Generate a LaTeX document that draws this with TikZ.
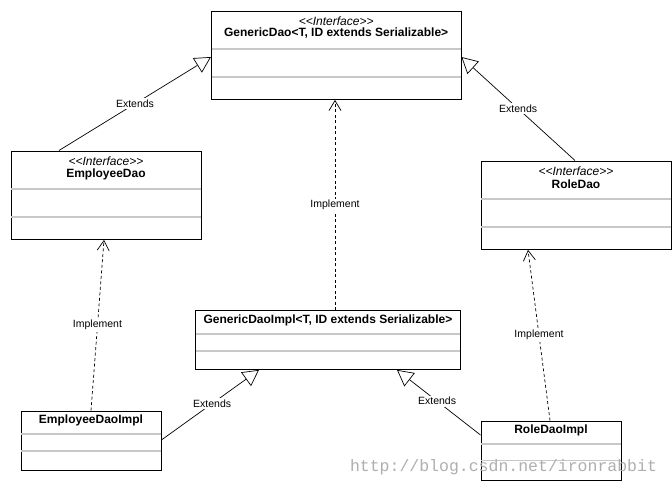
\documentclass[tikz,border=0pt]{standalone}
\usepackage{fontspec}
\setmainfont{Liberation Sans}
\newfontfamily\wmfont{Liberation Mono}
\usetikzlibrary{arrows.meta,calc}
\definecolor{divgray}{RGB}{200,200,200}
\definecolor{wmgray}{RGB}{175,175,175}
\tikzset{
  umlbox/.style={draw=black, line width=0.9pt, fill=white, inner sep=0pt, anchor=north west},
  divline/.style={draw=divgray, line width=1.2pt},
  ttl/.style={font=\fontsize{12}{14}\selectfont\bfseries, inner sep=0pt},
  stereo/.style={font=\fontsize{12}{14}\selectfont\itshape, inner sep=0pt},
  lbl/.style={font=\fontsize{10.5}{12}\selectfont, fill=white, inner sep=1.5pt},
  extarrow/.style={draw=black, line width=0.7pt, -{Triangle[open, length=16pt, width=17pt, fill=white]}},
  implarrow/.style={draw=black, line width=0.7pt, dash pattern=on 3pt off 2.5pt, -{Straight Barb[length=10pt, width=12pt]}}
}
\newcommand{\stereotxt}{{<}{<}Interface{>}{>}}
\begin{document}
\begin{tikzpicture}[x=1pt,y=-1pt]
\useasboundingbox (0,0) rectangle (672,490);
\fill[white] (0,0) rectangle (672,490);

% GenericDao
\node[umlbox, minimum width=249.5pt, minimum height=88.5pt] (gd) at (211,10.5) {};
\draw[divline] ($(gd.north west)+(0.6,38.5)$) -- ($(gd.north east)+(-0.6,38.5)$);
\draw[divline] ($(gd.north west)+(0.6,66.5)$) -- ($(gd.north east)+(-0.6,66.5)$);
\node[stereo] (gds) at ($(gd.north)+(0,10.3)$) {\stereotxt};
\node[ttl] (gdt) at ($(gd.north)+(0,23)$) {GenericDao{<}T, ID extends Serializable{>}};

% EmployeeDao
\node[umlbox, minimum width=190pt, minimum height=88.5pt] (ed) at (10.5,150.5) {};
\draw[divline] ($(ed.north west)+(0.6,38.5)$) -- ($(ed.north east)+(-0.6,38.5)$);
\draw[divline] ($(ed.north west)+(0.6,66.5)$) -- ($(ed.north east)+(-0.6,66.5)$);
\node[stereo] (eds) at ($(ed.north)+(0,11.2)$) {\stereotxt};
\node[ttl] (edt) at ($(ed.north)+(0,23.8)$) {EmployeeDao};

% RoleDao
\node[umlbox, minimum width=190pt, minimum height=88.5pt] (rd) at (480.5,160.5) {};
\draw[divline] ($(rd.north west)+(0.6,38.5)$) -- ($(rd.north east)+(-0.6,38.5)$);
\draw[divline] ($(rd.north west)+(0.6,66.5)$) -- ($(rd.north east)+(-0.6,66.5)$);
\node[stereo] (rds) at ($(rd.north)+(0,11.2)$) {\stereotxt};
\node[ttl] (rdt) at ($(rd.north)+(0,23.8)$) {RoleDao};

% GenericDaoImpl
\node[umlbox, minimum width=265pt, minimum height=59pt] (gdi) at (195,310) {};
\draw[divline] ($(gdi.north west)+(0.6,24)$) -- ($(gdi.north east)+(-0.6,24)$);
\draw[divline] ($(gdi.north west)+(0.6,41)$) -- ($(gdi.north east)+(-0.6,41)$);
\node[ttl] (gdit) at ($(gdi.north)+(0,10.7)$) {GenericDaoImpl{<}T, ID extends Serializable{>}};

% EmployeeDaoImpl
\node[umlbox, minimum width=140pt, minimum height=59.5pt] (edi) at (20.5,410.5) {};
\draw[divline] ($(edi.north west)+(0.6,23.5)$) -- ($(edi.north east)+(-0.6,23.5)$);
\draw[divline] ($(edi.north west)+(0.6,40.5)$) -- ($(edi.north east)+(-0.6,40.5)$);
\node[ttl] (edit) at ($(edi.north)+(0,9.7)$) {EmployeeDaoImpl};

% RoleDaoImpl
\node[umlbox, minimum width=140pt, minimum height=59.5pt] (rdi) at (480.5,420.5) {};
\draw[divline] ($(rdi.north west)+(0.6,23.5)$) -- ($(rdi.north east)+(-0.6,23.5)$);
\draw[divline] ($(rdi.north west)+(0.6,40)$) -- ($(rdi.north east)+(-0.6,40)$);
\node[ttl] (rdit) at ($(rdi.north)+(0,9.7)$) {RoleDaoImpl};

% Extends: interfaces -> GenericDao
\draw[extarrow] ($(ed.north west)+(48.5,0)$) -- node[lbl] (l1) {Extends} ($(gd.north west)+(0,46.5)$);
\draw[extarrow] ($(rd.north west)+(94.5,0)$) -- node[lbl] (l2) {Extends} ($(gd.north east)+(0,46.5)$);

% Implement
\draw[implarrow] ($(gdi.north west)+(140,0)$) -- node[lbl] (l3) {Implement} ($(gd.south west)+(124,0)$);
\draw[implarrow] ($(edi.north west)+(70.5,0)$) -- node[lbl] (l4) {Implement} ($(ed.south west)+(93.5,0)$);
\draw[implarrow] ($(rdi.north west)+(69.5,0)$) -- node[lbl] (l5) {Implement} ($(rd.south west)+(47.5,0)$);

% Extends: impls -> GenericDaoImpl
\draw[extarrow] ($(edi.north east)+(0,29.5)$) -- node[lbl, pos=0.52] (l6) {Extends} ($(gdi.south west)+(64,0)$);
\draw[extarrow] ($(rdi.north west)+(0,14.5)$) -- node[lbl, pos=0.52] (l7) {Extends} ($(gdi.south west)+(202,0)$);

% watermark
\node[font=\wmfont\fontsize{16.5}{18}\selectfont, text=wmgray, inner sep=0pt] (wm) at (503.5,467) {http://blog.csdn.net/ironrabbit};
\end{tikzpicture}
\end{document}
